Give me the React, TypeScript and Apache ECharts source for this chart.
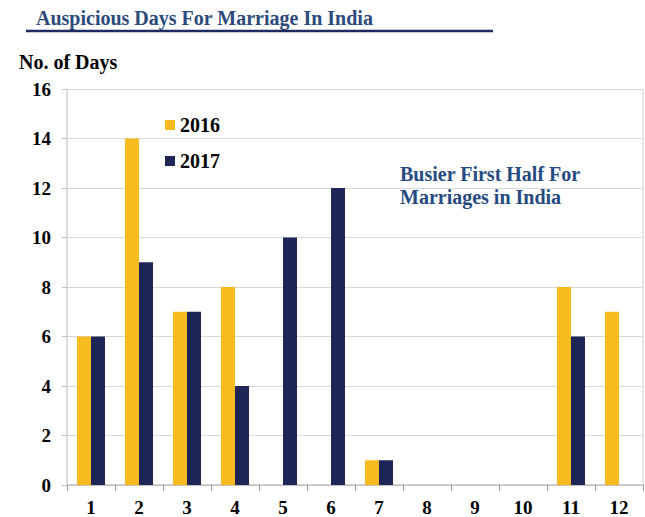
import React, { useEffect, useRef } from "react";
import * as echarts from "echarts";

const months = ["1", "2", "3", "4", "5", "6", "7", "8", "9", "10", "11", "12"];
const days2016 = [6, 14, 7, 8, 0, 0, 1, 0, 0, 0, 8, 7];
const days2017 = [6, 9, 7, 4, 10, 12, 1, 0, 0, 0, 6, 0];
const seriesNames = ["2016", "2017"];

const SERIF = "Liberation Serif";

export default function App() {
  const ref = useRef<HTMLDivElement>(null);
  useEffect(() => {
    if (!ref.current) return;
    const chart = echarts.init(ref.current, null, { renderer: "svg" });
    chart.setOption({
      animation: false,
      backgroundColor: "#ffffff",
      textStyle: { fontFamily: SERIF },
      grid: { left: 67, right: 2, top: 89, bottom: 31, containLabel: false },
      legend: {
        orient: "vertical",
        left: 160,
        top: 110,
        itemWidth: 10,
        itemHeight: 10,
        itemGap: 16,
        icon: "rect",
        data: seriesNames,
        textStyle: { fontFamily: SERIF, fontWeight: "bold", fontSize: 20, color: "#000" },
      },
      xAxis: {
        type: "category",
        data: months,
        axisLine: { show: true, lineStyle: { color: "#bfbfbf", width: 1.5 } },
        axisTick: { show: true, length: 6, lineStyle: { color: "#999" } },
        axisLabel: {
          fontFamily: SERIF,
          fontWeight: "bold",
          fontSize: 19,
          color: "#000",
          margin: 13,
        },
      },
      yAxis: {
        type: "value",
        min: 0,
        max: 16,
        interval: 2,
        axisLine: { show: true, lineStyle: { color: "#d0d0d0", width: 1.5 } },
        axisTick: { show: true, length: 5, lineStyle: { color: "#bfbfbf" } },
        axisLabel: {
          fontFamily: SERIF,
          fontWeight: "bold",
          fontSize: 19,
          color: "#000",
          margin: 16,
        },
        splitLine: { show: true, lineStyle: { color: "#d9d9d9", width: 1.2 } },
      },
      graphic: [
        {
          type: "text",
          left: 36,
          top: 8,
          style: {
            text: "Auspicious Days For Marriage In India",
            fontFamily: SERIF,
            fontWeight: "bold",
            fontSize: 20,
            fill: "#2C4A7C",
          },
        },
        {
          type: "line",
          shape: { x1: 26, y1: 31, x2: 493, y2: 31 },
          style: { stroke: "#1F2A60", lineWidth: 2.5 },
        },
        {
          type: "text",
          left: 19,
          top: 52,
          style: {
            text: "No. of Days",
            fontFamily: SERIF,
            fontWeight: "bold",
            fontSize: 20,
            fill: "#000",
          },
        },
        {
          type: "line",
          shape: { x1: 643, y1: 89, x2: 643, y2: 486 },
          style: { stroke: "#d9d9d9", lineWidth: 1.2 },
        },
        {
          type: "text",
          left: 400,
          top: 162,
          style: {
            text: "Busier First Half For\nMarriages in India",
            fontFamily: SERIF,
            fontWeight: "bold",
            fontSize: 20,
            fill: "#254B80",
            lineHeight: 23,
          },
        },
      ],
      series: [
        {
          name: seriesNames[0],
          type: "bar",
          data: days2016,
          barWidth: 14,
          barGap: "0%",
          itemStyle: { color: "#F6BC1F" },
        },
        {
          name: seriesNames[1],
          type: "bar",
          data: days2017,
          barWidth: 14,
          barGap: "0%",
          itemStyle: { color: "#1F2557" },
        },
      ],
    });
    return () => chart.dispose();
  }, []);
  return (
    <div
      ref={ref}
      style={{ position: "absolute", left: 0, top: 0, width: 645, height: 517 }}
    />
  );
}
